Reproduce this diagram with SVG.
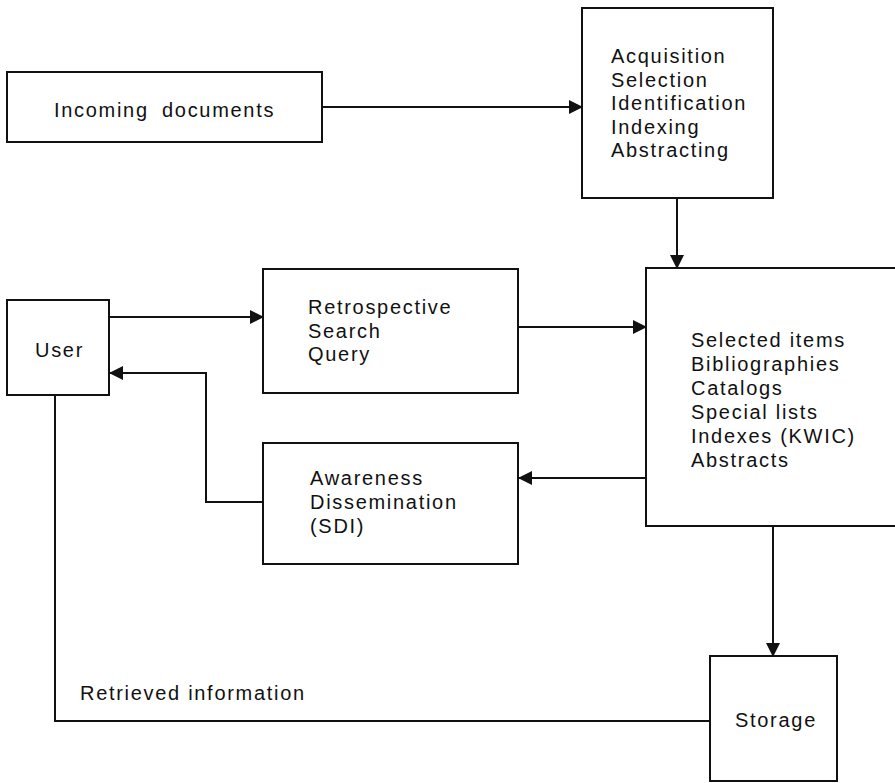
<svg xmlns="http://www.w3.org/2000/svg" width="895" height="783" viewBox="0 0 895 783">
  <style>
    .box { fill: #fff; stroke: #111; stroke-width: 2; }
    .lbl { font-family: "Liberation Sans", Arial, sans-serif; font-size: 20px; letter-spacing: 1.7px; fill: #111; }
    .wire { fill: none; stroke: #111; stroke-width: 2; }
  </style>
  <defs>
    <marker id="arrow" viewBox="0 0 14 14" refX="13" refY="7" markerWidth="14" markerHeight="14" markerUnits="userSpaceOnUse" orient="auto">
      <path d="M0,0 L14,7 L0,14 Z" fill="#111"/>
    </marker>
  </defs>
  <rect width="895" height="783" fill="#fff"/>

  <!-- connectors -->
  <g id="connectors">
    <line class="wire" x1="322" y1="107" x2="582" y2="107" marker-end="url(#arrow)"/>
    <line class="wire" x1="677" y1="198" x2="677" y2="268" marker-end="url(#arrow)"/>
    <line class="wire" x1="109" y1="317" x2="263" y2="317" marker-end="url(#arrow)"/>
    <line class="wire" x1="518" y1="327" x2="646" y2="327" marker-end="url(#arrow)"/>
    <line class="wire" x1="647" y1="478" x2="519" y2="478" marker-end="url(#arrow)"/>
    <polyline class="wire" points="263,502 206,502 206,373 110,373" marker-end="url(#arrow)"/>
    <line class="wire" x1="773" y1="526" x2="773" y2="656" marker-end="url(#arrow)"/>
    <polyline class="wire" points="710,721 55,721 55,395"/>
    <text class="lbl" x="80" y="700">Retrieved information</text>
  </g>

  <g id="incoming">
    <rect class="box" x="7" y="72" width="315" height="70"/>
    <text class="lbl" x="54" y="117" word-spacing="6">Incoming documents</text>
  </g>

  <g id="acquisition">
    <rect class="box" x="582" y="8" width="191" height="190"/>
    <text class="lbl" x="611" y="63">Acquisition</text>
    <text class="lbl" x="611" y="87">Selection</text>
    <text class="lbl" x="611" y="110">Identification</text>
    <text class="lbl" x="611" y="134">Indexing</text>
    <text class="lbl" x="611" y="157">Abstracting</text>
  </g>

  <g id="user">
    <rect class="box" x="7" y="300" width="102" height="95"/>
    <text class="lbl" x="35" y="357">User</text>
  </g>

  <g id="retrospective">
    <rect class="box" x="263" y="269" width="255" height="124"/>
    <text class="lbl" x="308" y="314">Retrospective</text>
    <text class="lbl" x="308" y="338">Search</text>
    <text class="lbl" x="308" y="361">Query</text>
  </g>

  <g id="awareness">
    <rect class="box" x="263" y="443" width="255" height="121"/>
    <text class="lbl" x="310" y="485">Awareness</text>
    <text class="lbl" x="310" y="509">Dissemination</text>
    <text class="lbl" x="310" y="533">(SDI)</text>
  </g>

  <g id="products">
    <rect class="box" x="646" y="268" width="260" height="258"/>
    <text class="lbl" x="691" y="347">Selected items</text>
    <text class="lbl" x="691" y="371">Bibliographies</text>
    <text class="lbl" x="691" y="395">Catalogs</text>
    <text class="lbl" x="691" y="419">Special lists</text>
    <text class="lbl" x="691" y="443">Indexes (KWIC)</text>
    <text class="lbl" x="691" y="467">Abstracts</text>
  </g>

  <g id="storage">
    <rect class="box" x="710" y="656" width="127" height="125"/>
    <text class="lbl" x="735" y="727">Storage</text>
  </g>
</svg>
